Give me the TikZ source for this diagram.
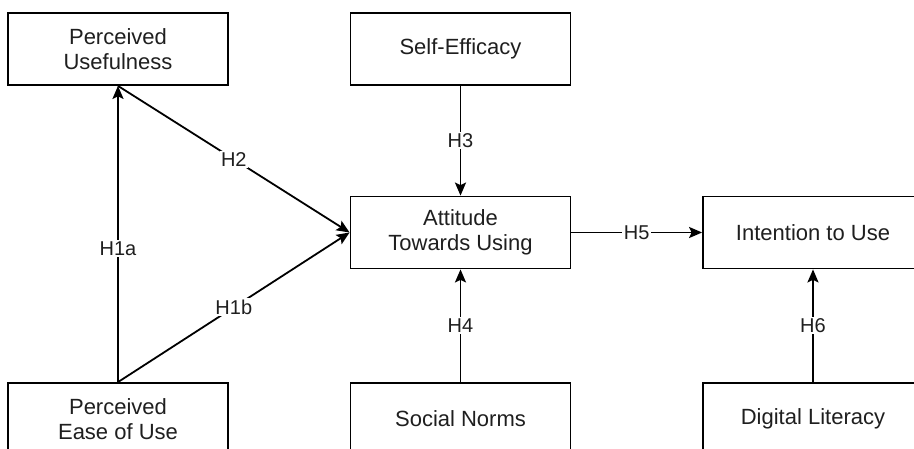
\documentclass[tikz,border=0pt]{standalone}
\usepackage{fontspec}
\setmainfont{Liberation Sans}
\usetikzlibrary{arrows.meta}
\begin{document}
\begin{tikzpicture}[x=1pt,y=-1pt,
  box/.style={draw=black, line width=1.8pt, minimum width=220pt, minimum height=72pt,
    inner sep=0pt, align=center, text=black!88, font=\fontsize{22}{25}\selectfont},
  conn/.style={draw=black, line width=1.8pt, -{Stealth[length=13pt,width=11pt,inset=2.5pt]}},
  lab/.style={fill=white, inner sep=1.5pt, text=black!88, font=\fontsize{20}{22}\selectfont}]
\clip (0,0) rectangle (914,449);
\fill[white] (0,0) rectangle (914,449);
\node[box] (PU) at (118,49) {Perceived\\Usefulness};
\node[box] (SE) at (460.5,49) {Self-Efficacy};
\node[box] (AT) at (460.5,232.5) {Attitude\\Towards Using};
\node[box] (IU) at (813,232.5) {Intention to Use};
\node[box] (PE) at (118,419) {Perceived\\Ease of Use};
\node[box] (SN) at (460.5,419) {Social Norms};
\node[box] (DL) at (813,419) {Digital Literacy};
\draw[conn] (PE.north) -- node[lab, pos=0.45] (h1a) {H1a} (PU.south);
\draw[conn] (PU.south) -- node[lab, pos=0.5] (h2) {H2} (AT.west);
\draw[conn] (PE.north) -- node[lab, pos=0.5] (h1b) {H1b} (AT.west);
\draw[conn] (SE.south) -- node[lab, pos=0.5] (h3) {H3} (AT.north);
\draw[conn] (SN.north) -- node[lab, pos=0.5] (h4) {H4} (AT.south);
\draw[conn] (AT.east) -- node[lab, pos=0.5] (h5) {H5} (IU.west);
\draw[conn] (DL.north) -- node[lab, pos=0.5] (h6) {H6} (IU.south);
\end{tikzpicture}
\end{document}
